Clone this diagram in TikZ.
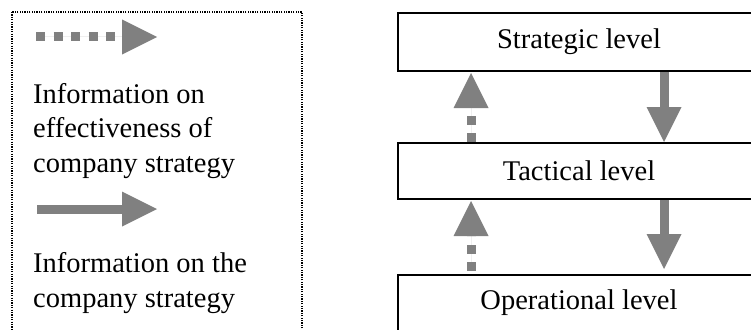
\documentclass[tikz,border=0pt]{standalone}
\usepackage{fontspec}
\setmainfont{Liberation Serif}
\usetikzlibrary{arrows.meta}
\definecolor{arrowgray}{RGB}{128,128,128}
\tikzset{
  levelbox/.style={draw=black, line width=2pt, minimum width=362pt, inner sep=0pt, font=\fontsize{28.5}{34.5}\selectfont},
  legendtext/.style={anchor=base west, inner sep=0pt, align=left, font=\fontsize{28.5}{34.5}\selectfont},
  bigtip/.style={-{Triangle[length=35pt,width=35pt,line width=0pt]}},
  solidarrow/.style={bigtip, draw=arrowgray, fill=arrowgray, line width=9pt},
  dotarrow/.style={bigtip, draw=arrowgray, fill=arrowgray, line width=9pt, dash pattern=on 9pt off 8.5pt},
  legendframe/.style={draw=black, line width=1.3pt, dash pattern=on 1.2pt off 1.2pt}
}
\begin{document}
\begin{tikzpicture}[x=1pt,y=-1pt]
\useasboundingbox (0,0) rectangle (751,329);
\clip (0,0) rectangle (751,329);
% legend
\draw[legendframe] (12,12) rectangle (302,360);
\coordinate (d1) at (36,37);
\coordinate (d2) at (157,37);
\coordinate (s1) at (37,209);
\coordinate (s2) at (157,209);
\draw[dotarrow] (d1) -- (d2);
\draw[solidarrow] (s1) -- (s2);
\node[legendtext] (t1) at (33,172) {Information on\\effectiveness of\\company strategy};
\node[legendtext] (t2) at (33,307) {Information on the\\company strategy};
% levels
\node[levelbox, minimum height=58pt] (str) at (579,42) {Strategic level};
\node[levelbox, minimum height=56pt] (tac) at (579,171) {Tactical level};
\node[levelbox, minimum height=56pt] (op) at (579,303) {Operational level};
% arrows
\draw[dotarrow, shorten >=1pt] ([xshift=-108pt]tac.north) -- ([xshift=-108pt]str.south);
\draw[solidarrow] ([xshift=85pt]str.south) -- ([xshift=85pt]tac.north);
\draw[dotarrow, shorten >=1pt, shorten <=3pt] ([xshift=-108pt]op.north) -- ([xshift=-108pt]tac.south);
\draw[solidarrow, shorten >=5pt] ([xshift=85pt]tac.south) -- ([xshift=85pt]op.north);
\end{tikzpicture}
\end{document}
